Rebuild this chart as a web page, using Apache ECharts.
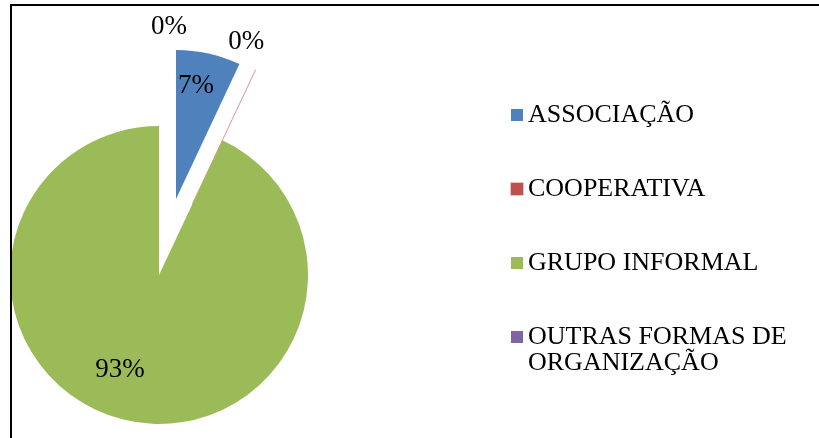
<!DOCTYPE html>
<html>
<head>
<meta charset="utf-8">
<script src="https://cdn.jsdelivr.net/npm/echarts@6/dist/echarts.min.js"></script>
<style>
html, body { margin: 0; padding: 0; background: #fff; }
#main { width: 819px; height: 438px; }
</style>
</head>
<body>
<div id="main"></div>
<script>
var categorias = ['ASSOCIAÇÃO', 'COOPERATIVA', 'GRUPO INFORMAL', 'OUTRAS FORMAS DE ORGANIZAÇÃO'];
var percentuais = [7, 0, 93, 0];
var destacados = [true, true, false, true];
var cores = ['#4F81BD', '#C0504D', '#9BBB59', '#8064A2'];

// small nudges so the labels land where Excel put them
var ajusteRotulo = [[3, -37], [21, -92], [-22, 19], [10, -93]];

var fonte = 'Liberation Serif';

var dados = categorias.map(function (nome, i) {
  var item = {
    name: nome,
    value: percentuais[i],
    selected: destacados[i],
    itemStyle: { color: cores[i] }
  };
  if (i === 1) {
    // the empty COOPERATIVA slice only shows as a faint red line
    item.itemStyle.borderColor = 'rgba(192,80,77,0.35)';
    item.itemStyle.borderWidth = 1;
  }
  return item;
});

var legendaDados = categorias.map(function (nome, i) {
  var d = { name: nome };
  if (i === 3) d.textStyle = { padding: [0, 0, -26, 0] };
  return d;
});

var myChart = echarts.init(document.getElementById('main'));
var option = {
  backgroundColor: '#fff',
  animation: false,
  graphic: [{
    type: 'rect',
    shape: { x: 11, y: 5, width: 900, height: 500 },
    style: { fill: 'none', stroke: '#000', lineWidth: 2 },
    silent: true,
    z: 100
  }],
  legend: {
    orient: 'vertical',
    left: 510,
    top: 102,
    padding: 0,
    itemGap: 48,
    itemWidth: 12,
    itemHeight: 12,
    icon: 'rect',
    selectedMode: false,
    textStyle: {
      fontFamily: fonte,
      fontSize: 26,
      color: '#000',
      lineHeight: 26,
      rich: {
        a: { fontFamily: fonte, fontSize: 26, color: '#000', lineHeight: 26 }
      }
    },
    formatter: function (name) {
      if (name === 'OUTRAS FORMAS DE ORGANIZAÇÃO') {
        return '{a|OUTRAS FORMAS DE}\n{a|ORGANIZAÇÃO}';
      }
      return '{a|' + name + '}';
    },
    data: legendaDados
  },
  series: [{
    type: 'pie',
    center: [159, 275],
    radius: 149,
    startAngle: 90,
    clockwise: true,
    selectedMode: 'multiple',
    selectedOffset: 78,
    avoidLabelOverlap: false,
    emphasis: { disabled: true },
    label: {
      show: true,
      position: 'inside',
      formatter: '{d}%',
      fontFamily: fonte,
      fontSize: 27,
      color: '#000'
    },
    labelLine: { show: false },
    labelLayout: function (p) {
      var a = ajusteRotulo[p.dataIndex];
      return { dx: a[0], dy: a[1] };
    },
    data: dados
  }]
};
myChart.setOption(option);
</script>
</body>
</html>
